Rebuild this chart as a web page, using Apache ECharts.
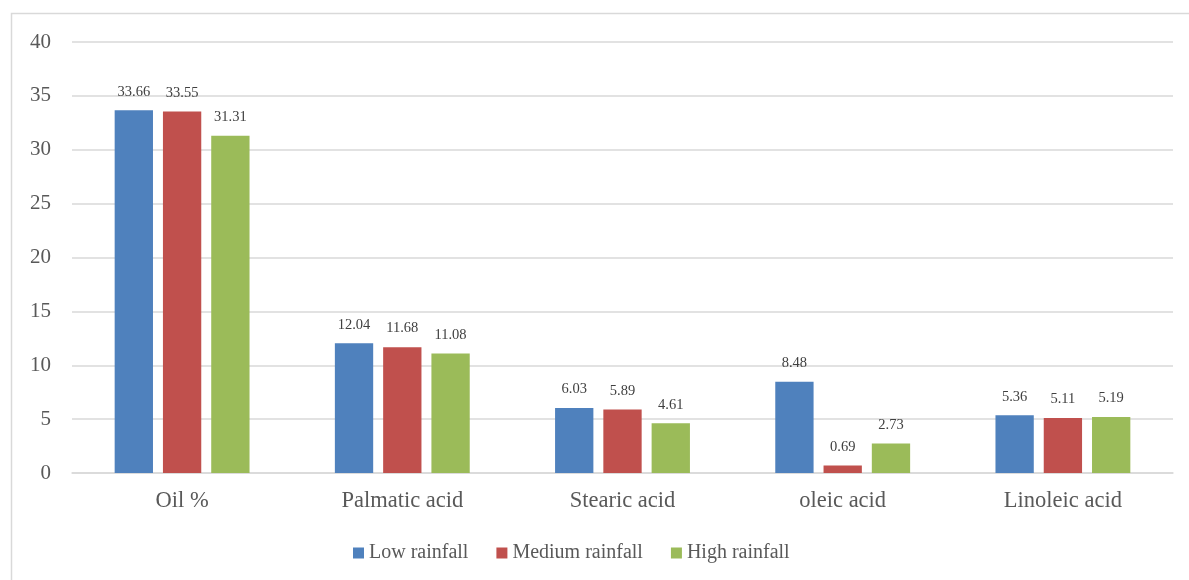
<!DOCTYPE html>
<html>
<head>
<meta charset="utf-8">
<script src="https://cdn.jsdelivr.net/npm/echarts@6/dist/echarts.min.js"></script>
<style>
  html, body { margin: 0; padding: 0; background: #fff; }
  #chart { width: 1189px; height: 580px; }
</style>
</head>
<body>
<div id="chart"></div>
<script>
// Fatty acid composition by rainfall level
const categories = ['Oil %', 'Palmatic acid', 'Stearic acid', 'oleic acid', 'Linoleic acid'];
const lowRainfall = [33.66, 12.04, 6.03, 8.48, 5.36];
const mediumRainfall = [33.55, 11.68, 5.89, 0.69, 5.11];
const highRainfall = [31.31, 11.08, 4.61, 2.73, 5.19];
const seriesNames = ['Low rainfall', 'Medium rainfall', 'High rainfall'];
const colors = ['#4f81bd', '#c0504d', '#9bbb59'];

const font = '"Liberation Serif", "Times New Roman", serif';
const textColor = '#595959';

function barSeries(name, data, color) {
  return {
    name: name,
    type: 'bar',
    data: data,
    barWidth: '17.4%',
    barGap: '26%',
    itemStyle: { color: color },
    label: {
      show: true,
      position: 'top',
      distance: 11,
      fontFamily: font,
      fontSize: 14.5,
      color: '#404040',
      formatter: p => p.value.toFixed(2)
    }
  };
}

const chart = echarts.init(document.getElementById('chart'));
chart.setOption({
  animation: false,
  color: colors,
  textStyle: { fontFamily: font },
  graphic: [{
    type: 'rect',
    left: 9, top: 11,
    shape: { width: 1200, height: 600 },
    style: { fill: 'none', stroke: '#d9d9d9', lineWidth: 1.5 },
    silent: true
  }],
  grid: { left: 72, right: 16, top: 42, bottom: 107, containLabel: false },
  legend: {
    top: 538,
    left: 348,
    itemWidth: 11,
    itemHeight: 11,
    itemGap: 28,
    icon: 'rect',
    textStyle: { fontFamily: font, fontSize: 20, color: textColor },
    data: seriesNames
  },
  xAxis: {
    type: 'category',
    data: categories,
    axisTick: { show: false },
    axisLine: { show: true, lineStyle: { color: '#d9d9d9', width: 1.5 } },
    axisLabel: { fontFamily: font, fontSize: 22.5, color: textColor, margin: 17 }
  },
  yAxis: {
    type: 'value',
    min: 0, max: 40, interval: 5,
    axisLine: { show: false },
    axisTick: { show: false },
    splitLine: { lineStyle: { color: '#d9d9d9', width: 1.5 } },
    axisLabel: { fontFamily: font, fontSize: 21, color: textColor, margin: 21 }
  },
  series: [
    barSeries(seriesNames[0], lowRainfall, colors[0]),
    barSeries(seriesNames[1], mediumRainfall, colors[1]),
    barSeries(seriesNames[2], highRainfall, colors[2])
  ]
});
</script>
</body>
</html>
